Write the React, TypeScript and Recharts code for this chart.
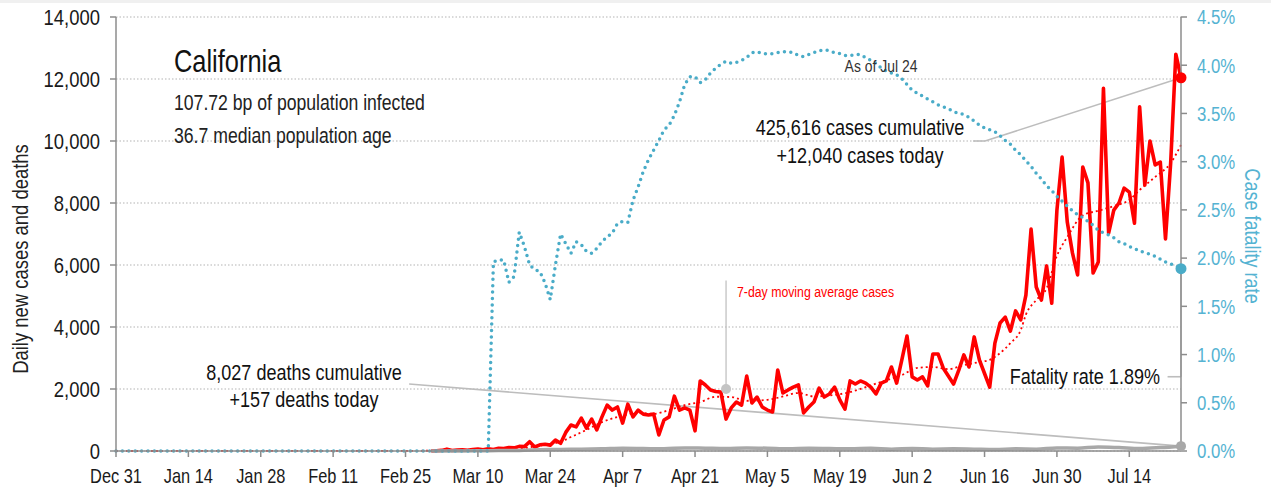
import {
  LineChart,
  Line,
  XAxis,
  YAxis,
  CartesianGrid,
  ReferenceLine,
  ReferenceDot,
} from 'recharts';

// Daily COVID-19 figures for California, days counted from Dec 31 (day 0)
const LAST_DAY = 206; // Jul 24

const tickDays = [0, 14, 28, 42, 56, 70, 84, 98, 112, 126, 140, 154, 168, 182, 196];
const tickLabels = [
  'Dec 31', 'Jan 14', 'Jan 28', 'Feb 11', 'Feb 25', 'Mar 10', 'Mar 24', 'Apr 7',
  'Apr 21', 'May 5', 'May 19', 'Jun 2', 'Jun 16', 'Jun 30', 'Jul 14',
];

const leftTicks = [0, 2000, 4000, 6000, 8000, 10000, 12000, 14000];
const rightTicks = [0, 0.5, 1, 1.5, 2, 2.5, 3, 3.5, 4, 4.5];

// new cases per day, starting Mar 1 (day 61)
const CASES_START = 61;
const dailyCases = [
  0, 10, 20, 60, 15, 30, 40, 25, 50, 60,
  40, 70, 50, 90, 80, 110, 100, 150, 140, 300,
  130, 200, 220, 190, 350, 250, 600, 840, 780, 1060,
  740, 1030, 680, 1100, 1480, 1320, 1420, 900, 1510, 1100,
  1320, 1190, 1160, 1190, 520, 1000, 1100, 1770, 1320, 1390,
  1320, 650, 2260, 2130, 1970, 1920, 1900, 1030, 1390, 1580,
  1480, 2420, 1550, 1740, 1420, 1320, 1260, 2610, 1870, 1970,
  2060, 2130, 1230, 1420, 1580, 2030, 1740, 1840, 2060, 1650,
  1350, 2260, 2160, 2260, 2190, 2060, 1840, 2190, 2260, 2710,
  2190, 2940, 3710, 2390, 2290, 2390, 2100, 3130, 3130, 2680,
  2420, 2160, 2600, 3100, 2710, 3680, 2940, 2500, 2060, 3480,
  4130, 4320, 3870, 4520, 4230, 5030, 7160, 5290, 4870, 5970,
  4770, 7770, 9480, 7390, 6390, 5680, 9160, 8650, 5740, 6100,
  11700, 7030, 7770, 8000, 8480, 8350, 7350, 11100, 8580, 10000,
  9230, 9320, 6840, 9290, 12800, 12040,
];

// 7-day moving average read at [day, value]
const movingAverage = [
  [0, 0], [70, 10], [76, 30], [78, 60], [80, 120], [83, 200], [86, 300], [88, 450],
  [91, 680], [94, 930], [97, 1100], [101, 1220], [104, 1200], [107, 1320], [110, 1480],
  [113, 1580], [116, 1750], [119, 1740], [122, 1620], [126, 1650], [129, 1760],
  [132, 1870], [135, 1760], [139, 1810], [142, 1900], [145, 2060], [148, 2230],
  [152, 2450], [155, 2680], [158, 2710], [161, 2640], [164, 2770], [167, 2870],
  [169, 2940], [171, 3160], [173, 3480], [175, 3900], [176, 4400], [178, 4870],
  [180, 5250], [182, 6300], [184, 6900], [187, 7600], [190, 7750], [193, 7900],
  [196, 8100], [198, 8420], [201, 8840], [204, 9290], [206, 9870],
];

// new deaths per day, read at [day, value]
const dailyDeaths = [
  [61, 0], [66, 2], [70, 5], [74, 15], [78, 20], [82, 40], [86, 50], [90, 60],
  [94, 70], [98, 90], [102, 80], [106, 70], [110, 100], [114, 90], [118, 80],
  [122, 100], [126, 90], [130, 70], [134, 90], [138, 80], [142, 70], [146, 90],
  [150, 60], [154, 80], [158, 60], [162, 70], [166, 60], [170, 50], [174, 70],
  [178, 60], [182, 100], [186, 90], [190, 130], [194, 110], [198, 80], [202, 110],
  [206, 157],
];

// case fatality rate (%), starting day 72
const RATE_START = 72;
const fatalityRate = [
  0, 1.96, 1.98, 1.98, 1.75, 1.81, 2.27, 2.12, 1.93, 1.88,
  1.86, 1.74, 1.57, 1.93, 2.25, 2.15, 2.05, 2.17, 2.14, 2.07,
  2.05, 2.1, 2.17, 2.22, 2.26, 2.36, 2.38, 2.37, 2.6, 2.74,
  2.9, 3.02, 3.12, 3.22, 3.33, 3.38, 3.48, 3.62, 3.8, 3.88,
  3.88, 3.82, 3.85, 3.92, 3.97, 4.01, 4.04, 4.02, 4.03, 4.05,
  4.08, 4.13, 4.14, 4.12, 4.12, 4.12, 4.13, 4.14, 4.14, 4.13,
  4.1, 4.09, 4.11, 4.13, 4.15, 4.16, 4.15, 4.13, 4.12, 4.1,
  4.1, 4.11, 4.11, 4.08, 4.05, 4.02, 3.97, 3.94, 3.92, 3.9,
  3.86, 3.8, 3.74, 3.71, 3.68, 3.65, 3.62, 3.59, 3.57, 3.55,
  3.52, 3.5, 3.49, 3.46, 3.42, 3.38, 3.35, 3.33, 3.31, 3.27,
  3.22, 3.18, 3.12, 3.07, 3.01, 2.95, 2.88, 2.82, 2.75, 2.7,
  2.64, 2.59, 2.54, 2.49, 2.45, 2.42, 2.38, 2.34, 2.29, 2.26,
  2.24, 2.21, 2.17, 2.15, 2.12, 2.1, 2.07, 2.06, 2.04, 2.02,
  1.99, 1.96, 1.94, 1.92, 1.89,
];

const RED = '#ff0000';
const CYAN = '#4aacc8';
const CYAN_TEXT = '#55b3d2';
const GRAY = '#a8a8a8';
const LEADER = '#bdbdbd';
const AXIS = '#8c8c8c';
const FONT = "'Liberation Sans', Arial, sans-serif";
const NARROW = 0.82; // horizontal squeeze to mimic a condensed face

type Row = {
  day: number;
  cases: number | null;
  ma: number | null;
  deaths: number | null;
  rate: number | null;
};

const rows: Row[] = [];
for (let day = 0; day <= LAST_DAY; day++) {
  rows.push({ day, cases: null, ma: null, deaths: null, rate: null });
}
dailyCases.forEach((v, i) => (rows[CASES_START + i].cases = v));
movingAverage.forEach(([d, v]) => (rows[d].ma = v));
dailyDeaths.forEach(([d, v]) => (rows[d].deaths = v));
rows[0].rate = 0;
fatalityRate.forEach((v, i) => (rows[RATE_START + i].rate = v));

const last = rows[LAST_DAY];

// condensed svg text
function NText({ x, y, size, fill = '#111', anchor = 'start', rotate = 0, dy, children }: any) {
  return (
    <text
      transform={`translate(${x} ${y}) rotate(${rotate}) scale(${NARROW} 1)`}
      fontSize={size}
      fill={fill}
      textAnchor={anchor}
      fontFamily={FONT}
      dy={dy}
    >
      {children}
    </text>
  );
}

function XTick({ x, y, payload }: any) {
  return (
    <NText x={x} y={y} size={20} fill="#1a1a1a" anchor="middle" dy="0.72em">
      {tickLabels[tickDays.indexOf(payload.value)]}
    </NText>
  );
}

function LeftTick({ x, y, payload }: any) {
  return (
    <NText x={x} y={y} size={22.5} fill="#1a1a1a" anchor="end" dy="0.36em">
      {payload.value.toLocaleString('en-US')}
    </NText>
  );
}

function RightTick({ x, y, payload }: any) {
  return (
    <NText x={x} y={y} size={20.5} fill={CYAN_TEXT} anchor="start" dy="0.36em">
      {`${payload.value.toFixed(1)}%`}
    </NText>
  );
}

export default function App() {
  return (
    <div
      style={{
        position: 'absolute',
        left: 0,
        top: 0,
        width: 1271,
        height: 491,
        background: '#fff',
        overflow: 'hidden',
      }}
    >
      <div style={{ position: 'absolute', left: 0, top: 0, width: 1271, height: 3, background: '#f0f0f0' }} />
      <LineChart
        width={1271}
        height={491}
        data={rows}
        margin={{ top: 17, right: 0, left: 0, bottom: 0 }}
      >
        <CartesianGrid
          yAxisId="left"
          vertical={false}
          stroke="#b3b3b3"
          strokeDasharray="1.5 2"
        />
        <XAxis
          dataKey="day"
          type="number"
          domain={[0, LAST_DAY]}
          ticks={tickDays}
          interval={0}
          height={40}
          tickSize={6}
          tickMargin={12}
          axisLine={{ stroke: AXIS, strokeWidth: 1.5 }}
          tickLine={{ stroke: AXIS, strokeWidth: 1.5 }}
          tick={<XTick />}
        />
        <YAxis
          yAxisId="left"
          width={116}
          domain={[0, 14000]}
          ticks={leftTicks}
          interval={0}
          tickSize={6}
          tickMargin={10}
          axisLine={{ stroke: AXIS, strokeWidth: 1.5 }}
          tickLine={{ stroke: AXIS, strokeWidth: 1.5 }}
          tick={<LeftTick />}
        />
        <YAxis
          yAxisId="right"
          orientation="right"
          width={90}
          domain={[0, 4.5]}
          ticks={rightTicks}
          interval={0}
          tickSize={6}
          tickMargin={10}
          axisLine={{ stroke: AXIS, strokeWidth: 1.5 }}
          tickLine={{ stroke: AXIS, strokeWidth: 1.5 }}
          tick={<RightTick />}
        />

        <ReferenceLine
          yAxisId="left"
          segment={[{ x: 56.7, y: 2160 }, { x: LAST_DAY, y: last.deaths }]}
          stroke={LEADER}
          strokeWidth={1.6}
          ifOverflow="visible"
        />
        <ReferenceLine
          yAxisId="left"
          segment={[{ x: 165.8, y: 10000 }, { x: 168.1, y: 10000 }]}
          stroke={LEADER}
          strokeWidth={1.6}
          ifOverflow="visible"
        />
        <ReferenceLine
          yAxisId="left"
          segment={[{ x: 168.1, y: 10000 }, { x: LAST_DAY, y: last.cases }]}
          stroke={LEADER}
          strokeWidth={1.6}
          ifOverflow="visible"
        />
        <ReferenceLine
          yAxisId="left"
          segment={[{ x: 118, y: 2000 }, { x: 118, y: 5500 }]}
          stroke={LEADER}
          strokeWidth={1.2}
          ifOverflow="visible"
        />
        <ReferenceLine
          yAxisId="right"
          segment={[{ x: 203.4, y: 0.77 }, { x: LAST_DAY, y: 0.77 }]}
          stroke={LEADER}
          strokeWidth={1.6}
          ifOverflow="visible"
        />
        <ReferenceLine
          yAxisId="right"
          segment={[{ x: LAST_DAY, y: 0.77 }, { x: LAST_DAY, y: last.rate }]}
          stroke={LEADER}
          strokeWidth={1.6}
          ifOverflow="visible"
        />

        <Line
          yAxisId="left"
          dataKey="ma"
          type="monotone"
          stroke={RED}
          strokeWidth={1.8}
          strokeDasharray="2 3"
          dot={false}
          connectNulls
          isAnimationActive={false}
        />
        <Line
          yAxisId="left"
          dataKey="cases"
          type="linear"
          stroke={RED}
          strokeWidth={3.6}
          strokeLinejoin="round"
          dot={false}
          isAnimationActive={false}
        />
        <Line
          yAxisId="left"
          dataKey="deaths"
          type="monotone"
          stroke={GRAY}
          strokeWidth={3.5}
          dot={false}
          connectNulls
          isAnimationActive={false}
        />
        <Line
          yAxisId="right"
          dataKey="rate"
          type="linear"
          stroke={CYAN}
          strokeWidth={3.5}
          strokeDasharray="0 6.4"
          strokeLinecap="round"
          dot={false}
          connectNulls
          isAnimationActive={false}
        />

        <ReferenceDot yAxisId="left" x={118} y={2000} r={5} fill="#c4c4c4" stroke="none" ifOverflow="visible" />
        <ReferenceDot yAxisId="left" x={LAST_DAY} y={last.cases} r={5.5} fill={RED} stroke="none" ifOverflow="visible" />
        <ReferenceDot yAxisId="left" x={LAST_DAY} y={last.deaths} r={5} fill={GRAY} stroke="none" ifOverflow="visible" />
        <ReferenceDot yAxisId="right" x={LAST_DAY} y={last.rate} r={5.5} fill={CYAN} stroke="none" ifOverflow="visible" />
      </LineChart>

      <svg
        width={1271}
        height={491}
        style={{ position: 'absolute', left: 0, top: 0, pointerEvents: 'none' }}
      >
        <NText x={174} y={72} size={31}>California</NText>
        <NText x={174} y={110} size={21.5} fill="#222">107.72 bp of population infected</NText>
        <NText x={174} y={143} size={21.5} fill="#222">36.7 median population age</NText>

        <NText x={881} y={72} size={17} fill="#333" anchor="middle">As of Jul 24</NText>

        <NText x={860} y={135} size={22} anchor="middle">425,616 cases cumulative</NText>
        <NText x={860} y={163} size={22} anchor="middle">+12,040 cases today</NText>

        <NText x={304} y={380} size={22} anchor="middle">8,027 deaths cumulative</NText>
        <NText x={304} y={407} size={22} anchor="middle">+157 deaths today</NText>

        <NText x={737} y={297} size={15} fill={RED}>7-day moving average cases</NText>

        <NText x={1160} y={384} size={22} anchor="end">Fatality rate 1.89%</NText>

        <NText x={28} y={259} size={22.5} fill="#222" anchor="middle" rotate={-90}>
          Daily new cases and deaths
        </NText>
        <NText x={1245} y={236} size={22} fill={CYAN_TEXT} anchor="middle" rotate={90}>
          Case fatality rate
        </NText>
      </svg>
    </div>
  );
}
